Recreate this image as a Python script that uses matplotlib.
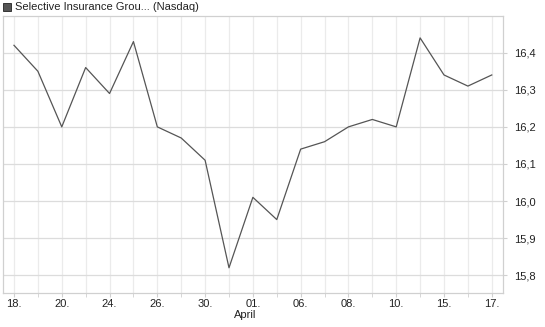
import numpy as np
import matplotlib.pyplot as plt
from matplotlib.patches import Rectangle

plt.rcParams['font.family'] = ['Liberation Sans', 'DejaVu Sans']

# closing prices, one per trading day
prices = [16.42, 16.35, 16.20, 16.36, 16.29, 16.43, 16.20, 16.17, 16.11, 15.82,
          16.01, 15.95, 16.14, 16.16, 16.20, 16.22, 16.20, 16.44, 16.34, 16.31, 16.34]
day_labels = ['18.', '20.', '24.', '26.', '30.', '01.', '06.', '08.', '10.', '15.', '17.']
y_ticks = [15.8, 15.9, 16.0, 16.1, 16.2, 16.3, 16.4]
title = 'Selective Insurance Grou... (Nasdaq)'
month_label = 'April'

x = np.arange(len(prices))

fig = plt.figure(figsize=(5.45, 3.27), dpi=100)
W, H = 545, 327
ax = fig.add_axes([3 / W, 1 - 293 / H, 500 / W, 277 / H])

ax.plot(x, prices, color='#555555', lw=0.9)

ax.set_xlim(-0.46, 20.47)
ax.set_ylim(15.752, 16.499)

ax.set_xticks(x, minor=True)
ax.set_xticks(x[::2])
ax.set_xticklabels(day_labels)
ax.set_yticks(y_ticks)
ax.set_yticklabels([f'{v:.1f}'.replace('.', ',') for v in y_ticks])
ax.yaxis.tick_right()

ax.grid(True, which='both', axis='x', color='#ebebeb', lw=0.9)
ax.grid(True, which='major', axis='y', color='#dcdcdc', lw=0.9)
ax.set_axisbelow(True)

for s in ax.spines.values():
    s.set_color('#d0d0d0')
    s.set_linewidth(0.9)

ax.tick_params(axis='both', which='both', length=3, color='#d0d0d0',
               labelsize=8, labelcolor='#222222', pad=1)
ax.tick_params(axis='y', pad=5)

fig.patches.append(Rectangle((3 / W, 1 - 11 / H), 8 / W, 8 / H, transform=fig.transFigure,
                             facecolor='#555555', edgecolor='#222222', lw=0.6))
fig.text(15 / W, 1 - 7 / H, title, fontsize=8, color='#222222', va='center', ha='left')
fig.text(245 / W, 1 - 315 / H, month_label, fontsize=8, color='#222222', va='center', ha='center')

fig.savefig('out.png', dpi=100)
